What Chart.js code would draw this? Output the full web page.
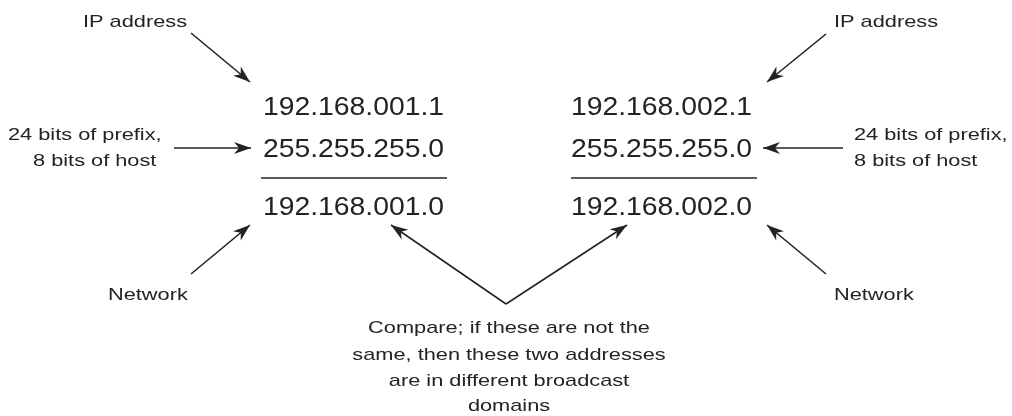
<!DOCTYPE html>
<html>
<head>
<meta charset="utf-8">
<script src="https://cdn.jsdelivr.net/npm/chart.js@4.4.0/dist/chart.umd.min.js"></script>
<style>
  html, body { margin: 0; padding: 0; background: #fff; }
  canvas { display: block; }
</style>
</head>
<body>
<canvas id="diagram" width="1012" height="416"></canvas>
<script>
// addresses of the two hosts and the result of the AND
const addressLines = ['192.168.001.1', '255.255.255.0', '192.168.001.0',
                      '192.168.002.1', '255.255.255.0', '192.168.002.0'];
const addressAnchors = [[263, 115], [263, 157], [263, 215],
                        [571, 115], [571, 157], [571, 215]];

// callout labels (left-anchored)
const labelLines = ['IP address', '24 bits of prefix,', '8 bits of host', 'Network',
                    'IP address', '24 bits of prefix,', '8 bits of host', 'Network'];
const labelAnchors = [[83, 27], [8, 140], [33, 166], [108, 300],
                      [834, 27], [854, 140], [854, 166], [834, 300]];

// centred note at the bottom
const noteLines = ['Compare; if these are not the', 'same, then these two addresses',
                   'are in different broadcast', 'domains'];
const noteAnchors = [[509, 333], [509, 360], [509, 386], [509, 411]];

// arrows: tail -> head
const arrows = [
  [[191, 33], [250, 82]],
  [[174, 148], [251, 148]],
  [[191, 274], [250, 225]],
  [[506, 304], [391, 225]],
  [[506, 304], [627, 225]],
  [[826, 34], [767, 82]],
  [[843, 148], [763, 148]],
  [[826, 274], [767, 225]]
];

// rules under the masks
const rules = [
  [[261, 178], [447, 178]],
  [[571, 178], [757, 178]]
];

const INK = '#232323';

const toPts = seg => seg.map(p => ({ x: p[0], y: p[1] }));

const datasets = [];
arrows.forEach(a => datasets.push({
  data: toPts(a), showLine: true, borderColor: INK, borderWidth: 1.6,
  pointRadius: 0, arrow: true
}));
rules.forEach(r => datasets.push({
  data: toPts(r), showLine: true, borderColor: INK, borderWidth: 1.6,
  pointRadius: 0
}));

const diagramPlugin = {
  id: 'diagram',
  afterDatasetsDraw(chart) {
    const { ctx, scales: { x, y } } = chart;

    // arrow heads at the last point of each arrow dataset
    chart.data.datasets.forEach(ds => {
      if (!ds.arrow) return;
      const a = ds.data[0], b = ds.data[ds.data.length - 1];
      const x0 = x.getPixelForValue(a.x), y0 = y.getPixelForValue(a.y);
      const x1 = x.getPixelForValue(b.x), y1 = y.getPixelForValue(b.y);
      const ang = Math.atan2(y1 - y0, x1 - x0);
      ctx.save();
      ctx.translate(x1, y1);
      ctx.rotate(ang);
      ctx.fillStyle = INK;
      ctx.beginPath();
      ctx.moveTo(0, 0);
      ctx.lineTo(-17, -6);
      ctx.lineTo(-12, 0);
      ctx.lineTo(-17, 6);
      ctx.closePath();
      ctx.fill();
      ctx.restore();
    });

    const drawText = (text, pos, size, stretch, align) => {
      ctx.save();
      ctx.translate(x.getPixelForValue(pos[0]), y.getPixelForValue(pos[1]));
      ctx.scale(stretch, 1);
      ctx.font = size + 'px "Liberation Sans", Arial, sans-serif';
      ctx.fillStyle = INK;
      ctx.textAlign = align;
      ctx.textBaseline = 'alphabetic';
      ctx.fillText(text, 0, 0);
      ctx.restore();
    };

    addressLines.forEach((t, i) => drawText(t, addressAnchors[i], 25.5, 1.11, 'left'));
    labelLines.forEach((t, i) => drawText(t, labelAnchors[i], 17, 1.28, 'left'));
    noteLines.forEach((t, i) => drawText(t, noteAnchors[i], 17, 1.28, 'center'));
  }
};

new Chart(document.getElementById('diagram'), {
  type: 'scatter',
  data: { datasets },
  options: {
    responsive: false,
    animation: false,
    devicePixelRatio: 1,
    layout: { padding: 0 },
    plugins: { legend: { display: false }, tooltip: { enabled: false } },
    scales: {
      x: { type: 'linear', min: 0, max: 1012, display: false },
      y: { type: 'linear', min: 0, max: 416, reverse: true, display: false }
    }
  },
  plugins: [diagramPlugin]
});
</script>
</body>
</html>
